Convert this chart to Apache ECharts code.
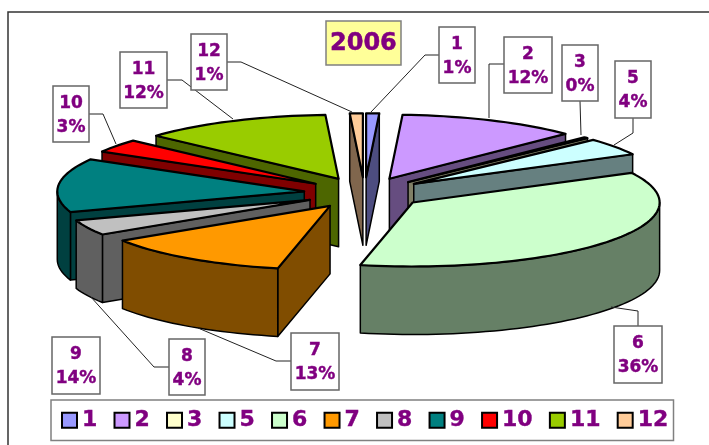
<!DOCTYPE html>
<html>
<head>
<meta charset="utf-8">
<style>
  html, body { margin: 0; padding: 0; background: #fff; }
  #chart { width: 709px; height: 445px; }
</style>
<script src="https://cdn.jsdelivr.net/npm/echarts@6/dist/echarts.min.js"></script>
</head>
<body>
<div id="chart"></div>
<script>
// values (printed labels are rounded)
const categories = ["1", "2", "3", "5", "6", "7", "8", "9", "10", "11", "12"];
const shares = [0.85, 11.8, 0.3, 4.4, 36.1, 12.5, 3.9, 13.6, 3.4, 12.4, 0.85];
const shareLabels = ["1%", "12%", "0%", "4%", "36%", "13%", "4%", "14%", "3%", "12%", "1%"];
const topColors = ["#9999ff", "#cc99ff", "#ffffcc", "#ccffff", "#ccffcc", "#ff9900", "#c0c0c0", "#008080", "#ff0000", "#99cc00", "#ffcc99"];
const sideColors = ["#4d4d80", "#664d80", "#808066", "#668080", "#668066", "#804d00", "#606060", "#004040", "#800000", "#4d6600", "#80664d"];

// label boxes [x, y, w, h], same order as categories
const labelBoxes = [
  [439, 27, 36, 56], [504, 37, 48, 56], [562, 45, 36, 56], [615, 61, 36, 57],
  [614, 326, 48, 57], [291, 333, 48, 57], [169, 339, 36, 56], [52, 337, 48, 57],
  [53, 86, 36, 56], [120, 52, 47, 56], [191, 34, 36, 56]
];
// leader lines, same order as categories (slice 9 has none)
const leaders = [
  [[439, 55], [425, 55], [371, 112]],
  [[504, 64], [489, 64], [489, 118]],
  [[580, 101], [581, 135]],
  [[633, 118], [633, 133], [614, 145]],
  [[638, 326], [638, 311], [611, 307]],
  [[291, 361], [276, 361], [198, 328]],
  [[169, 367], [154, 367], [90, 296]],
  null,
  [[89, 114], [103, 114], [116, 144]],
  [[167, 80], [182, 80], [233, 119]],
  [[227, 62], [241, 62], [352, 112]]
];

const purple = "#800080";
const font = '"DejaVu Sans", Verdana, sans-serif';

// pie projection
const pie = { cx: 364.5, cy: 193, rx: 247, ry: 64, depth: 68, explode: 0.245 };
const rad = (d) => (d * Math.PI) / 180;

const total = shares.reduce((a, b) => a + b, 0);
let run = 0;
const slices = shares.map((v, i) => {
  const start = (run / total) * 360;
  run += v;
  const end = (run / total) * 360;
  const mid = rad((start + end) / 2);
  return {
    i, start, end,
    ax: pie.cx + pie.explode * pie.rx * Math.sin(mid),
    ay: pie.cy - pie.explode * pie.ry * Math.cos(mid),
  };
});

function rimPoint(s, deg, down) {
  return [s.ax + pie.rx * Math.sin(rad(deg)), s.ay - pie.ry * Math.cos(rad(deg)) + down];
}

function arc(s, from, to, down) {
  const pts = [];
  const n = Math.max(2, Math.ceil((to - from) / 2));
  for (let k = 0; k <= n; k++) pts.push(rimPoint(s, from + ((to - from) * k) / n, down));
  return pts;
}

function face(points, fill, width) {
  return {
    type: "polygon",
    shape: { points },
    style: { fill, stroke: "#000", lineWidth: width, lineJoin: "round" },
  };
}

function renderSlice(s) {
  const apex = [s.ax, s.ay];
  const apexLow = [s.ax, s.ay + pie.depth];
  const side = sideColors[s.i];
  const children = [];

  // cut faces that turn toward the viewer
  if (s.start > 180) {
    children.push(face([apex, rimPoint(s, s.start, 0), rimPoint(s, s.start, pie.depth), apexLow], side, 1.5));
  }
  if (s.end < 180) {
    children.push(face([apex, rimPoint(s, s.end, 0), rimPoint(s, s.end, pie.depth), apexLow], side, 1.5));
  }
  // rim, only the near half shows
  const from = Math.max(s.start, 90);
  const to = Math.min(s.end, 270);
  if (to > from) {
    children.push(face(arc(s, from, to, 0).concat(arc(s, from, to, pie.depth).reverse()), side, 1.5));
  }
  children.push(face([apex].concat(arc(s, s.start, s.end, 0)), topColors[s.i], 2.2));
  return { type: "group", children };
}

// back to front
const drawOrder = slices.slice().sort((a, b) => a.ay - b.ay);
const series = drawOrder.map((s, rank) => ({
  type: "custom",
  name: categories[s.i],
  coordinateSystem: "none",
  z: 2 + rank,
  silent: true,
  itemStyle: { color: topColors[s.i] },
  data: [shares[s.i]],
  renderItem: () => renderSlice(s),
}));

const leaderLines = leaders.filter(Boolean).map((points) => ({
  type: "polyline",
  z: 30,
  shape: { points },
  style: { stroke: "#222", lineWidth: 1, fill: null },
}));

const labelElements = labelBoxes.map((b, i) => ({
  type: "group",
  z: 31,
  children: [
    {
      type: "rect",
      z: 31,
      shape: { x: b[0], y: b[1], width: b[2], height: b[3] },
      style: { fill: "#fff", stroke: "#666", lineWidth: 1.5 },
    },
    {
      type: "text",
      z: 32,
      x: b[0] + b[2] / 2,
      y: b[1] + b[3] / 2 + 1.5,
      style: {
        text: categories[i] + "\n" + shareLabels[i],
        fill: purple,
        stroke: purple,
        lineWidth: 0.4,
        font: "bold 17px " + font,
        lineHeight: 24,
        align: "center",
        verticalAlign: "middle",
      },
    },
  ],
}));

const chart = echarts.init(document.getElementById("chart"), null, { renderer: "canvas" });

chart.setOption({
  animation: false,
  backgroundColor: "#fff",
  title: {
    text: "2006",
    left: 326,
    top: 21,
    padding: [9, 4, 8, 4],
    backgroundColor: "#ffff99",
    borderColor: "#808080",
    borderWidth: 1.5,
    textStyle: {
      color: purple, fontFamily: font, fontWeight: "bold", fontSize: 24, lineHeight: 27,
      textBorderColor: purple, textBorderWidth: 0.5,
    },
  },
  legend: {
    left: 51,
    top: 400,
    padding: [9, 5, 9, 10],
    itemGap: 16,
    itemWidth: 15,
    itemHeight: 15,
    icon: "rect",
    borderColor: "#808080",
    borderWidth: 1.5,
    backgroundColor: "#fff",
    selectedMode: false,
    data: categories,
    itemStyle: { borderColor: "#000", borderWidth: 2 },
    textStyle: {
      color: purple, fontFamily: font, fontWeight: "bold", fontSize: 22, lineHeight: 21,
      textBorderColor: purple, textBorderWidth: 0.4,
    },
  },
  graphic: {
    elements: [
      // frame runs off the picture on the right and at the bottom
      {
        type: "rect",
        z: 0,
        shape: { x: 8, y: 12, width: 900, height: 600 },
        style: { fill: "#fff", stroke: "#333", lineWidth: 1.5 },
      },
    ].concat(leaderLines, labelElements),
  },
  series,
});
</script>
</body>
</html>
